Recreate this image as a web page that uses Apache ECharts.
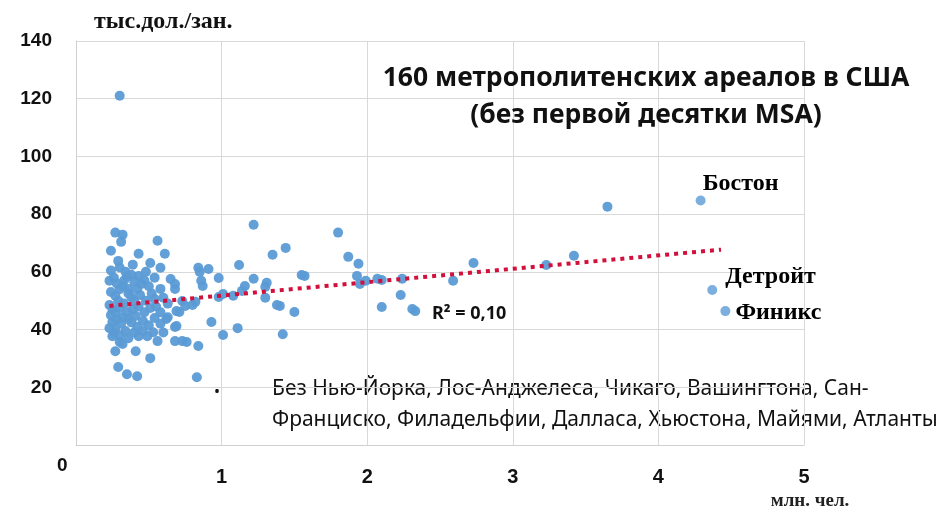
<!DOCTYPE html>
<html>
<head>
<meta charset="utf-8">
<script src="https://cdn.jsdelivr.net/npm/echarts@6/dist/echarts.min.js"></script>
<style>
  html, body { margin: 0; padding: 0; background: #fff; }
  #main { width: 939px; height: 512px; }
</style>
</head>
<body>
<div id="main"></div>
<script>
// население MSA (млн. чел.) и производительность (тыс.дол./зан.)
var msaPoints = [
  [0.30,121],
  [3.65,82.6], [2.73,63.1], [2.59,56.9], [3.23,62.4], [3.42,65.6],
  [1.80,73.6], [1.44,68.3], [1.87,65.2], [1.94,62.8], [1.55,58.9], [1.57,58.6], [1.93,58.6],
  [1.95,55.8], [1.99,56.9], [2.07,57.6], [2.10,57.2], [2.24,57.6], [2.23,52.0], [2.10,47.8],
  [2.31,47.1], [2.33,46.4], [1.50,46.1], [1.42,38.4], [1.40,48.2],
  [1.22,76.3], [1.35,65.9], [1.12,62.4], [0.84,61.4], [0.91,61.0], [0.86,56.9], [0.87,55.1],
  [0.98,57.9], [1.22,57.6], [1.31,56.2], [1.30,54.8], [1.16,55.1], [1.14,53.4], [1.01,52.3],
  [1.08,51.7], [0.98,51.3], [1.30,51.0], [1.38,48.5],
  [0.93,42.6], [1.11,40.5], [1.01,38.1], [0.84,34.3], [0.83,23.5],
  [0.27,73.6], [0.32,72.9], [0.31,70.4], [0.56,70.8], [0.24,67.3], [0.29,63.8], [0.43,66.3],
  [0.61,66.3], [0.51,63.1], [0.58,61.4], [0.34,60.0], [0.35,58.3], [0.23,56.9], [0.43,58.6],
  [0.45,55.8], [0.32,55.1], [0.36,54.1], [0.27,51.7], [0.38,51.3], [0.58,54.1], [0.68,55.8],
  [0.68,54.1], [0.54,50.6], [0.73,49.9], [0.82,49.6], [0.85,60.0],
  [0.25,47.1], [0.25,42.6], [0.27,40.2], [0.32,44.3], [0.36,43.7], [0.41,44.7], [0.34,39.5],
  [0.25,37.7], [0.30,35.7], [0.43,37.7], [0.49,37.7], [0.53,39.1], [0.56,36.0], [0.62,43.7],
  [0.68,40.9], [0.68,36.0], [0.73,36.0], [0.76,35.7], [0.27,32.5], [0.41,32.5], [0.51,30.1],
  [0.29,27.0], [0.35,24.5], [0.42,23.8], [0.75,48.2], [0.71,46.1],
  [0.63,44.3], [0.69,46.4], [0.69,41.2], [0.80,48.5], [0.32,35.0],
  [0.24,60.5], [0.26,58.0], [0.28,56.0], [0.30,54.0], [0.33,57.0], [0.38,59.0], [0.40,56.5],
  [0.42,54.0], [0.47,57.0], [0.50,55.0], [0.24,53.0], [0.29,50.0], [0.33,49.0], [0.36,52.5],
  [0.40,50.0], [0.44,52.0], [0.48,50.0], [0.52,52.5], [0.55,48.0], [0.60,51.0], [0.23,48.5],
  [0.27,46.0], [0.30,47.5], [0.35,46.0], [0.39,47.0], [0.43,48.0], [0.47,46.0], [0.51,47.5],
  [0.58,46.0], [0.63,49.0], [0.24,45.0], [0.28,43.5], [0.31,42.0], [0.38,42.5], [0.42,41.0],
  [0.46,43.0], [0.50,41.5], [0.54,44.0], [0.58,42.0], [0.40,39.0], [0.23,40.5], [0.26,39.0],
  [0.30,38.0], [0.36,37.0], [0.46,39.5], [0.60,39.0], [0.65,57.5], [0.54,58.0], [0.30,61.5],
  [0.48,60.0], [0.39,62.5]
];
// подписанные города
var cityNames = ['Бостон', 'Детройт', 'Финикс'];
var cityPoints = [[4.29,84.7], [4.37,53.7], [4.46,46.4]];
// линия тренда (концы)
var trendPoints = [[0.23,48.2], [4.43,67.7]];
var r2Text = 'R² = 0,10';
var xTicks = [0, 1, 2, 3, 4, 5];
var yTicks = [0, 20, 40, 60, 80, 100, 120, 140];

var myChart = echarts.init(document.getElementById('main'));

var cityLabelPos = [
  { position: 'top', offset: [40, 5] },
  { position: 'right', offset: [3, -13] },
  { position: 'right', offset: [0, 2] }
];
var cityData = cityPoints.map(function (p, i) {
  return {
    name: cityNames[i],
    value: p,
    label: {
      show: true,
      formatter: '{b}',
      position: cityLabelPos[i].position,
      offset: cityLabelPos[i].offset,
      fontFamily: 'Liberation Serif',
      fontWeight: 'bold',
      fontSize: 24,
      color: '#000',
      opacity: 1,
      textBorderWidth: 0
    }
  };
});

var option = {
  animation: false,
  backgroundColor: '#fff',
  title: {
    text: '160 метрополитенских ареалов в США\n(без первой десятки MSA)',
    left: 641,
    top: 55,
    textAlign: 'center',
    textStyle: {
      fontFamily: 'Noto Sans',
      fontWeight: 'bold',
      fontSize: 26.5,
      lineHeight: 37,
      color: '#111'
    }
  },
  grid: { left: 76, right: 135, top: 41, bottom: 67 },
  xAxis: {
    type: 'value',
    min: xTicks[0],
    max: xTicks[xTicks.length - 1],
    interval: 1,
    name: 'млн. чел.',
    nameLocation: 'end',
    nameGap: 0,
    nameTextStyle: {
      fontFamily: 'Liberation Serif',
      fontWeight: 'bold',
      fontSize: 19,
      color: '#222',
      align: 'center',
      verticalAlign: 'top',
      padding: [47, 0, 0, 12]
    },
    axisLine: { show: true, lineStyle: { color: '#d0d0d0', width: 1 } },
    axisTick: { show: false },
    splitLine: { show: true, lineStyle: { color: '#d9d9d9', width: 1 } },
    axisLabel: {
      margin: 22,
      fontFamily: 'Liberation Sans Narrow, Liberation Sans',
      fontWeight: 'bold',
      fontSize: 20,
      color: '#111',
      formatter: function (v) { return v === 0 ? '' : String(v); }
    }
  },
  yAxis: {
    type: 'value',
    min: yTicks[0],
    max: yTicks[yTicks.length - 1],
    interval: 20,
    name: 'тыс.дол./зан.',
    nameLocation: 'end',
    nameGap: 7,
    nameTextStyle: {
      fontFamily: 'Liberation Serif',
      fontWeight: 'bold',
      fontSize: 24,
      color: '#111',
      align: 'left',
      padding: [0, 0, 0, 18]
    },
    axisLine: { show: true, lineStyle: { color: '#d0d0d0', width: 1 } },
    axisTick: { show: false },
    splitLine: { show: true, lineStyle: { color: '#d9d9d9', width: 1 } },
    axisLabel: {
      margin: 24,
      fontFamily: 'Liberation Sans',
      fontWeight: 'bold',
      fontSize: 19,
      color: '#111',
      formatter: function (v) { return v === 0 ? '' : String(v); }
    }
  },
  series: [
    {
      type: 'scatter',
      data: msaPoints,
      symbolSize: 10,
      itemStyle: { color: '#5b9bd5', opacity: 0.95 }
    },
    {
      type: 'scatter',
      data: cityData,
      symbolSize: 10,
      itemStyle: { color: '#5b9bd5' }
    },
    {
      type: 'line',
      data: trendPoints,
      showSymbol: false,
      symbol: 'none',
      z: 5,
      lineStyle: { color: '#d2103c', width: 4, type: [4, 5], cap: 'butt' }
    }
  ],
  graphic: [
    {
      type: 'text', left: 57, top: 456,
      style: { text: '0', font: 'bold 19px "Liberation Sans"', fill: '#111' }
    },
    {
      type: 'text', left: 432, top: 305,
      style: { text: r2Text, font: 'bold 18px "Noto Sans"', fill: '#111' }
    },
    {
      type: 'text', left: 214, top: 384,
      style: { text: '•', font: '16px "Noto Sans"', fill: '#111' }
    },
    {
      type: 'text', left: 272, top: 374,
      style: {
        text: 'Без Нью-Йорка, Лос-Анджелеса, Чикаго, Вашингтона, Сан-\nФранциско, Филадельфии, Далласа, Хьюстона, Майями, Атланты',
        font: '21px "Noto Sans"',
        lineHeight: 31,
        fill: '#111'
      }
    }
  ]
};
myChart.setOption(option);
</script>
</body>
</html>
